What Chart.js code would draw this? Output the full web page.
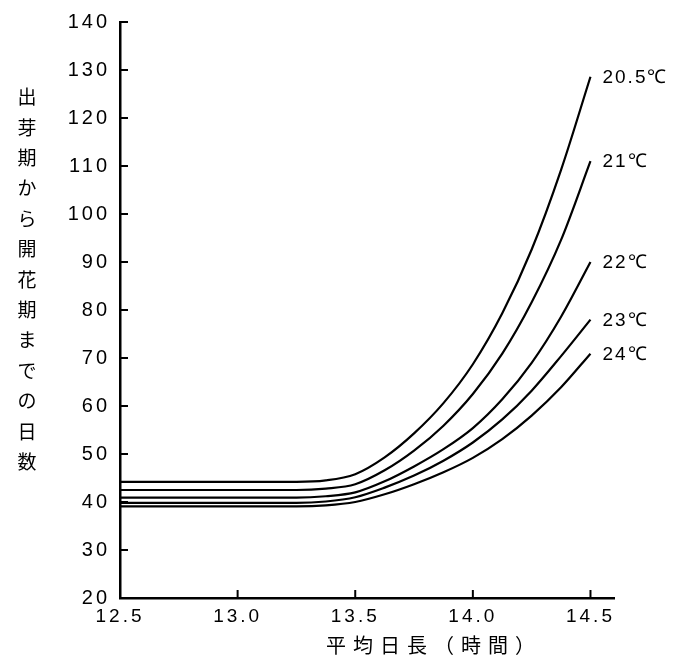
<!DOCTYPE html>
<html>
<head>
<meta charset="utf-8">
<script src="https://cdn.jsdelivr.net/npm/chart.js@4"></script>
<style>
  html, body { margin: 0; padding: 0; background: #fff; }
  #wrap { width: 676px; height: 672px; }
</style>
</head>
<body>
<div id="wrap"><canvas id="budChart" width="676" height="672"></canvas></div>
<script>
// 平均日長（時間）
const hours = [12.5, 13.0, 13.25, 13.375, 13.5, 13.625, 13.75, 13.875, 14.0, 14.125, 14.25, 14.375, 14.5];
// 出芽期から開花期までの日数, per temperature
const t205 = [44.2, 44.2, 44.2, 44.5, 45.8, 49.3, 54.3, 60.6, 68.7, 79.3, 92.6, 109.2, 128.6];
const t21  = [42.5, 42.5, 42.5, 42.8, 43.7, 46.6, 50.7, 55.9, 62.5, 70.9, 81.6, 94.6, 111.0];
const t22  = [40.9, 40.9, 40.9, 41.2, 42.0, 44.3, 47.4, 51.0, 55.4, 61.4, 69.0, 78.6, 90.0];
const t23  = [39.8, 39.8, 39.8, 40.1, 41.0, 43.0, 45.5, 48.6, 52.4, 57.2, 63.2, 70.4, 78.0];
const t24  = [39.1, 39.1, 39.1, 39.3, 40.0, 41.6, 43.7, 46.2, 49.2, 53.1, 58.0, 63.9, 70.9];
const curveLabels = ['20.5℃', '21℃', '22℃', '23℃', '24℃'];
const xTicks = [12.5, 13.0, 13.5, 14.0, 14.5];
const yTitle = '出芽期から開花期までの日数';
const xTitle = '平均日長（時間）';

const series = [t205, t21, t22, t23, t24];
const numFont = '"Liberation Sans", Arial, sans-serif';
const jpFont = '"Noto Sans CJK JP", sans-serif';

// extra drawing: inward ticks, axis titles, curve labels
const decorations = {
    id: 'decorations',
    beforeDraw(chart) {
        chart.ctx.letterSpacing = '3px';
    },
    afterDraw(chart) {
        const ctx = chart.ctx;
        const xs = chart.scales.x;
        const ys = chart.scales.y;
        const area = chart.chartArea;
        ctx.save();
        ctx.strokeStyle = '#000';
        ctx.lineWidth = 2;
        ys.ticks.forEach(t => {
            if (t.value <= 20) return;
            const py = ys.getPixelForValue(t.value);
            ctx.beginPath();
            ctx.moveTo(area.left, py);
            ctx.lineTo(area.left + 8, py);
            ctx.stroke();
        });
        xs.ticks.forEach(t => {
            if (t.value <= 12.5) return;
            const px = xs.getPixelForValue(t.value);
            ctx.beginPath();
            ctx.moveTo(px, area.bottom);
            ctx.lineTo(px, area.bottom - 8);
            ctx.stroke();
        });

        // curve labels beside the end of each line
        ctx.fillStyle = '#000';
        ctx.font = '19px ' + numFont;
        ctx.letterSpacing = '2px';
        ctx.textAlign = 'left';
        ctx.textBaseline = 'middle';
        chart.data.datasets.forEach((ds, i) => {
            const meta = chart.getDatasetMeta(i);
            const last = meta.data[meta.data.length - 1];
            ctx.fillText(curveLabels[i], last.x + 12, last.y + 1);
        });

        // vertical y title
        ctx.font = '19px ' + jpFont;
        ctx.letterSpacing = '0px';
        ctx.textAlign = 'center';
        Array.from(yTitle).forEach((c, i) => {
            ctx.fillText(c, 27, 97 + i * 30.4);
        });

        // x title
        ctx.font = '20px ' + jpFont;
        ctx.letterSpacing = '7px';
        ctx.fillText(xTitle, 434, 645);
        ctx.restore();
    }
};

new Chart(document.getElementById('budChart'), {
    type: 'line',
    data: {
        datasets: series.map((vals, i) => ({
            label: curveLabels[i],
            data: hours.map((h, j) => ({ x: h, y: vals[j] })),
            borderColor: '#000',
            borderWidth: 2.2,
            pointRadius: 0,
            fill: false,
            cubicInterpolationMode: 'monotone'
        }))
    },
    options: {
        responsive: false,
        animation: false,
        layout: { padding: { top: 14, right: 62, bottom: 0, left: 0 } },
        plugins: {
            legend: { display: false },
            tooltip: { enabled: false }
        },
        scales: {
            x: {
                type: 'linear',
                min: 12.5,
                max: 14.6,
                afterBuildTicks: (scale) => {
                    scale.ticks = xTicks.map(v => ({ value: v }));
                },
                afterFit: (scale) => { scale.height = 74; },
                grid: { display: false, drawTicks: false },
                border: { display: true, color: '#000', width: 2.5 },
                ticks: {
                    padding: 7,
                    color: '#000',
                    font: { family: numFont, size: 19 },
                    callback: (v) => Number(v).toFixed(1)
                }
            },
            y: {
                min: 20,
                max: 140,
                afterFit: (scale) => { scale.width = 120; },
                grid: { display: false, drawTicks: false },
                border: { display: true, color: '#000', width: 2.5 },
                ticks: {
                    stepSize: 10,
                    padding: 10,
                    color: '#000',
                    font: { family: numFont, size: 20 }
                }
            }
        }
    },
    plugins: [decorations]
});
</script>
</body>
</html>
